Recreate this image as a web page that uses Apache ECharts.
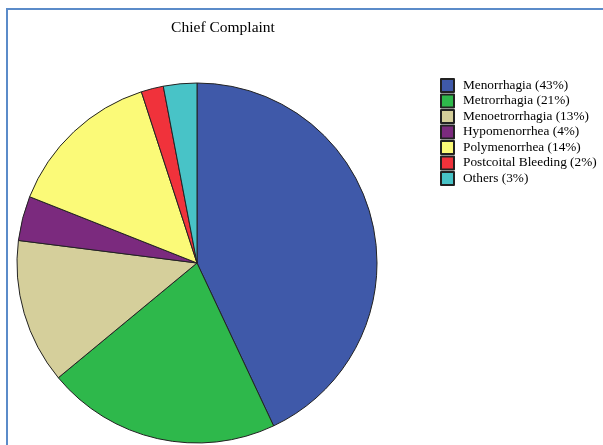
<!DOCTYPE html>
<html>
<head>
<meta charset="utf-8">
<script src="https://cdn.jsdelivr.net/npm/echarts@6/dist/echarts.min.js"></script>
<style>
  html, body { margin: 0; padding: 0; background: #fff; }
  #chart { width: 603px; height: 445px; }
</style>
</head>
<body>
<div id="chart"></div>
<script>
// chart data
var categories = ['Menorrhagia', 'Metrorrhagia', 'Menoetrorrhagia', 'Hypomenorrhea',
    'Polymenorrhea', 'Postcoital Bleeding', 'Others'];
var percents = [43, 21, 13, 4, 14, 2, 3];
var colors = ['#3f59a9', '#2eb84b', '#d5cf9b', '#7b2a7e', '#fbfa78', '#f0323b', '#48c3c7'];

var total = percents.reduce(function(a, b) { return a + b; }, 0);
var pieData = [];
for (var i = 0; i < categories.length; i++) {
    pieData.push({ name: categories[i], value: percents[i], itemStyle: { color: colors[i] } });
}

var myChart = echarts.init(document.getElementById('chart'));
var option = {
    animation: false,
    title: {
        text: 'Chief Complaint',
        left: 223,
        top: 20,
        padding: 0,
        textAlign: 'center',
        textStyle: { fontFamily: 'Liberation Serif', fontSize: 15.5, fontWeight: 'normal', color: '#000' }
    },
    legend: {
        orient: 'vertical',
        left: 440,
        top: 78,
        padding: 0,
        icon: 'rect',
        itemWidth: 13,
        itemHeight: 13,
        itemGap: 0.5,
        selectedMode: false,
        textStyle: { fontFamily: 'Liberation Serif', fontSize: 13.3, lineHeight: 15, color: '#000', padding: [0, 0, 0, 4] },
        formatter: function(name) {
            var idx = categories.indexOf(name);
            return name + ' (' + Math.round(percents[idx] / total * 100) + '%)';
        },
        data: categories
    },
    graphic: [{
        type: 'polyline',
        shape: { points: [[7, 445], [7, 9], [603, 9]] },
        style: { stroke: '#5b8bc9', lineWidth: 2, fill: null }
    }],
    series: [{
        type: 'pie',
        center: [197, 263],
        radius: 180,
        startAngle: 90,
        clockwise: true,
        label: { show: false },
        labelLine: { show: false },
        emphasis: { disabled: true },
        itemStyle: { borderColor: '#222', borderWidth: 1 },
        data: pieData
    }]
};
myChart.setOption(option);
</script>
</body>
</html>
